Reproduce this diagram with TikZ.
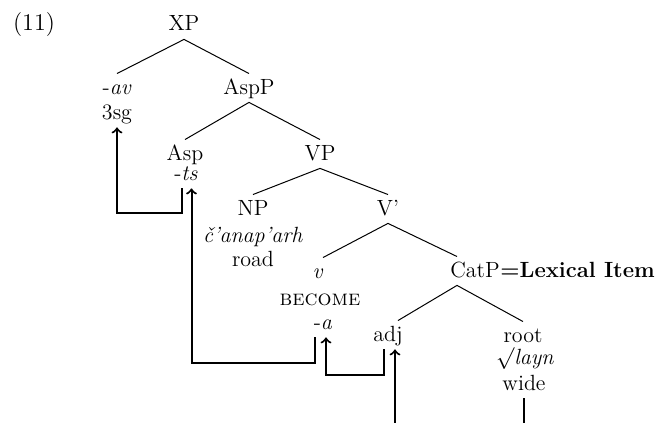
\documentclass[tikz,border=0pt]{standalone}
\usepackage{tikz}
\usetikzlibrary{calc}

\begin{document}
\begin{tikzpicture}[x=0.5pt, y=-0.5pt,
  lbl/.style={font=\fontsize{11pt}{13.6pt}\selectfont, inner xsep=2pt, inner ysep=4pt, text height=1.4ex, text depth=0pt, anchor=base},
  branch/.style={line width=0.5pt},
  movearrow/.style={line width=1pt, ->},
  moveline/.style={line width=1pt}]
\useasboundingbox (0,0) rectangle (664,423);
\node[lbl, font=\fontsize{12pt}{14pt}\selectfont] (num) at (34,31) {(11)};
\node[lbl] (xp) at (184,31) {XP};
\node[lbl] (av) at (117,94) {-\textit{av}};
\node[lbl] (sg) at (117,119) {3sg};
\node[lbl] (aspp) at (249,94) {AspP};
\node[lbl] (asp) at (185,160) {Asp};
\node[lbl] (ts) at (186,180) {-\textit{ts}};
\node[lbl] (vp) at (320,160) {VP};
\node[lbl] (np) at (253,215) {NP};
\node[lbl] (road) at (253,242) {\textit{č’anap’arh}};
\node[lbl] (gloss) at (253,266) {road};
\node[lbl] (vbar) at (388,215) {V'};
\node[lbl] (v) at (318,278) {\textit{v}};
\node[lbl] (become) at (320,305) {\textsc{become}};
\node[lbl] (a) at (323,329) {-\textit{a}};
\node[lbl] (catp) at (475,277) {CatP};
\node[lbl, anchor=base west, inner xsep=0pt, xshift=-2pt] (lexitem) at (catp.base east) {\textbf{=Lexical Item}};
\node[lbl] (adj) at (388,341) {adj};
\node[lbl] (root) at (523,342) {root};
\node[lbl] (layn) at (525,364) {$\surd$\textit{layn}};
\node[lbl] (wide) at (524,390) {wide};

% tree
\draw[branch] (av.north) -- (xp.south) -- (aspp.north);
\draw[branch] (asp.north) -- (aspp.south) -- (vp.north);
\draw[branch] (np.north) -- (vp.south) -- (vbar.north);
\draw[branch] ($(v.north)+(5,0)$) -- (vbar.south) -- ($(catp.north)+(-18,0)$);
\draw[branch] ($(adj.north)+(10,0)$) -- ($(catp.south)+(-18,0)$) -- (root.north);

% movement
\coordinate (adjfoot) at ($(adj.south)+(7,75)$);
\coordinate (widefoot) at (wide.south |- adjfoot);
\draw[movearrow] ($(ts.south)+(-4.5,0)$) -- ++(0,24.5) -| (sg.south);
\draw[movearrow] ($(a.south)+(-8,0)$) -- ++(0,25.5) -| ($(ts.south)+(5.5,0)$);
\draw[movearrow] ($(adj.south)+(-4,0)$) -- ++(0,25.5) -| ($(a.south)+(3,0)$);
\draw[movearrow] (adjfoot) -- ($(adj.south)+(7,0)$);
\draw[moveline] (wide.south) -- (widefoot);
\end{tikzpicture}
\end{document}
